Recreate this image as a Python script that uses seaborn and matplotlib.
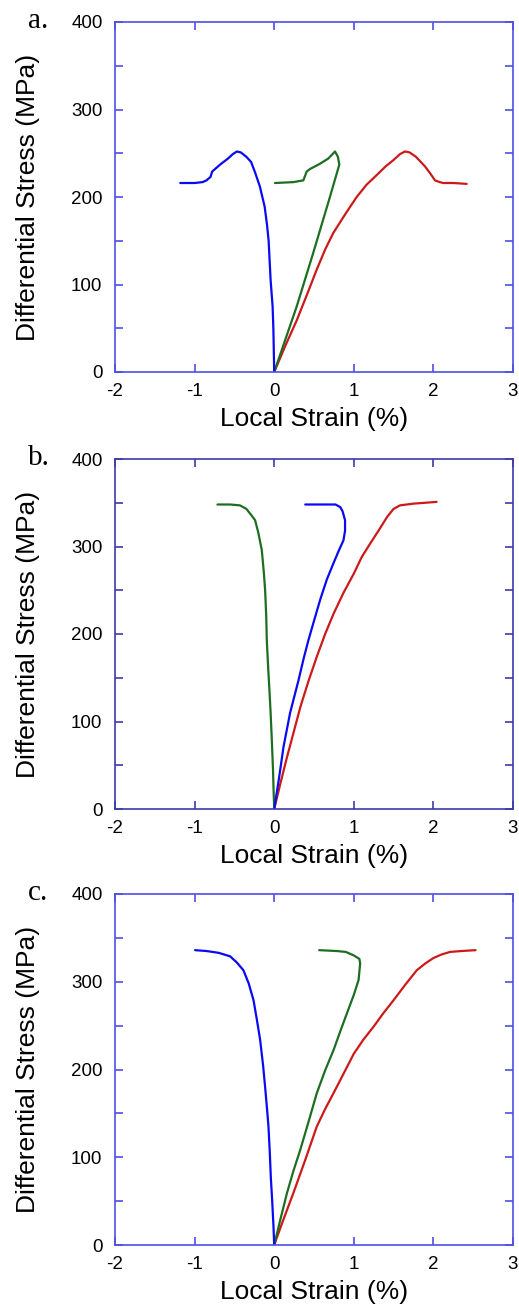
import numpy as np
import pandas as pd
import matplotlib
matplotlib.use("Agg")
import matplotlib.pyplot as plt
import seaborn as sns
from matplotlib.ticker import FixedLocator, FuncFormatter

# ---------------- data (strain %, stress MPa) ----------------
# panel a
a_blue_x = [-1.18, -1.0, -0.9, -0.85, -0.8, -0.78, -0.68, -0.58, -0.52, -0.47, -0.42, -0.35, -0.29, -0.24, -0.18, -0.12, -0.09, -0.07, -0.045, -0.02, -0.01, 0.0]
a_blue_y = [216, 216, 217, 219, 223, 229, 237, 244, 249, 252, 251, 246, 240, 228, 212, 189, 168, 150, 105, 75, 48, 0]
a_green_x = [0.0, 0.283, 0.49, 0.70, 0.818, 0.80, 0.764, 0.68, 0.575, 0.45, 0.408, 0.366, 0.24, 0.01]
a_green_y = [0, 75, 136, 200, 237, 246, 252, 244, 238, 232, 229, 219, 217, 216]
a_red_x = [0.0, 0.14, 0.283, 0.41, 0.534, 0.64, 0.743, 0.89, 1.036, 1.16, 1.287, 1.40, 1.496, 1.58, 1.643, 1.70, 1.78, 1.894, 1.96, 2.02, 2.08, 2.124, 2.25, 2.418]
a_red_y = [0, 30, 59, 88, 117, 140, 159, 180, 200, 214, 225, 235, 242, 249, 252, 251, 246, 235, 227, 219, 217, 216, 216, 215]

# panel b
b_green_x = [-0.713, -0.55, -0.43, -0.35, -0.28, -0.24, -0.20, -0.156, -0.13, -0.114, -0.10, -0.093, -0.075, -0.06, -0.045, -0.03, -0.015, -0.009, 0.0]
b_green_y = [348, 348, 347, 343, 335, 330, 316, 296, 270, 250, 220, 193, 160, 136, 110, 79, 45, 25, 0]
b_blue_x = [0.0, 0.06, 0.117, 0.20, 0.305, 0.37, 0.43, 0.50, 0.577, 0.66, 0.745, 0.81, 0.87, 0.89, 0.89, 0.86, 0.83, 0.77, 0.6, 0.39]
b_blue_y = [0, 35, 71, 110, 147, 172, 193, 215, 239, 262, 281, 295, 307, 318, 330, 340, 345, 348, 348, 348]
b_red_x = [0.0, 0.08, 0.16, 0.245, 0.33, 0.43, 0.535, 0.64, 0.745, 0.87, 1.0, 1.10, 1.21, 1.31, 1.42, 1.50, 1.58, 1.75, 1.9, 2.04]
b_red_y = [0, 30, 59, 88, 117, 146, 174, 200, 223, 247, 269, 288, 304, 318, 334, 343, 347, 349, 350, 351]

# panel c
c_blue_x = [-0.994, -0.85, -0.70, -0.554, -0.47, -0.386, -0.32, -0.26, -0.22, -0.177, -0.14, -0.114, -0.09, -0.072, -0.055, -0.043, -0.025, -0.009, 0.0]
c_blue_y = [336, 335, 333, 329, 322, 313, 298, 279, 258, 234, 205, 180, 155, 135, 105, 78, 50, 21, 0]
c_green_x = [0.0, 0.08, 0.16, 0.24, 0.326, 0.43, 0.535, 0.64, 0.745, 0.84, 0.93, 1.0, 1.06, 1.08, 1.07, 1.0, 0.9, 0.787, 0.565]
c_green_y = [0, 30, 59, 84, 108, 140, 173, 199, 222, 246, 268, 285, 302, 321, 326, 330, 334, 335, 336]
c_red_x = [0.0, 0.12, 0.24, 0.39, 0.535, 0.64, 0.745, 0.87, 1.0, 1.12, 1.25, 1.37, 1.5, 1.65, 1.79, 1.9, 2.0, 2.1, 2.21, 2.35, 2.53]
c_red_y = [0, 30, 59, 97, 135, 155, 173, 195, 218, 234, 249, 264, 279, 297, 313, 321, 327, 331, 334, 335, 336]

x_ticks = [-2, -1, 0, 1, 2, 3]
y_ticks = [0, 50, 100, 150, 200, 250, 300, 350, 400]
y_labels = ["0", "", "100", "", "200", "", "300", "", "400"]
panel_labels = ["a.", "b.", "c."]
x_title = "Local Strain (%)"
y_title = "Differential Stress (MPa)"

colors = {"blue": "#0a0af2", "green": "#1d6e22", "red": "#cc1a1a"}

panels = [
    {"blue": (a_blue_x, a_blue_y), "green": (a_green_x, a_green_y), "red": (a_red_x, a_red_y)},
    {"blue": (b_blue_x, b_blue_y), "green": (b_green_x, b_green_y), "red": (b_red_x, b_red_y)},
    {"blue": (c_blue_x, c_blue_y), "green": (c_green_x, c_green_y), "red": (c_red_x, c_red_y)},
]
spine_colors = ["#4f4fe8", "#3c3caa", "#4f4fe8"]

sns.set_style("white")
plt.rcParams["font.family"] = ["Liberation Sans", "DejaVu Sans"]
plt.rcParams["text.color"] = "black"
plt.rcParams["axes.labelcolor"] = "black"

W, H = 519, 1309
fig = plt.figure(figsize=(W / 100, H / 100), dpi=100)

# axes pixel boxes: (left, top, right, bottom)
boxes = [(115, 22, 513, 372), (115, 459, 513, 809), (115, 894, 513, 1245)]
label_pos = [(28, 28), (28, 465), (28, 900)]

for i, (panel, box) in enumerate(zip(panels, boxes)):
    l, t, r, b = box
    ax = fig.add_axes([l / W, 1 - b / H, (r - l) / W, (b - t) / H])
    rows = []
    for name in ["red", "green", "blue"]:
        xs, ys = panel[name]
        for xv, yv in zip(xs, ys):
            rows.append({"strain": xv, "stress": yv, "series": name})
    df = pd.DataFrame(rows)
    sns.lineplot(data=df, x="strain", y="stress", hue="series", palette=colors,
                 sort=False, estimator=None, linewidth=1.6, legend=False, ax=ax)
    ax.set_xlim(-2, 3)
    ax.set_ylim(0, 400)
    ax.xaxis.set_major_locator(FixedLocator(x_ticks))
    ax.yaxis.set_major_locator(FixedLocator(y_ticks))
    ax.yaxis.set_major_formatter(FuncFormatter(lambda v, p: y_labels[y_ticks.index(int(round(v)))] if int(round(v)) in y_ticks else ""))
    ax.xaxis.set_major_formatter(FuncFormatter(lambda v, p: f"{int(round(v))}"))
    sc = spine_colors[i]
    for s in ax.spines.values():
        s.set_color(sc)
        s.set_linewidth(1.2)
    ax.tick_params(axis="both", which="major", direction="in", length=5.5, width=1.2,
                   color=sc, top=True, right=True, bottom=True, left=True,
                   labelsize=13.5, labelcolor="black")
    ax.tick_params(axis="y", pad=9)
    ax.tick_params(axis="x", pad=8)
    ax.set_xlabel(x_title, fontsize=19, color="black")
    ax.set_ylabel(y_title, fontsize=19, color="black")
    ax.xaxis.set_label_coords(0.5, -0.134)
    ax.yaxis.set_label_coords(-0.219, 0.5)
    ax.xaxis.label.set_va("center")
    ax.yaxis.label.set_va("center")
    lx, ly = label_pos[i]
    fig.text(lx / W, 1 - ly / H, panel_labels[i], fontsize=21, color="black",
             family=["Liberation Serif", "DejaVu Serif"], ha="left", va="baseline")

fig.savefig("out.png", dpi=100)
